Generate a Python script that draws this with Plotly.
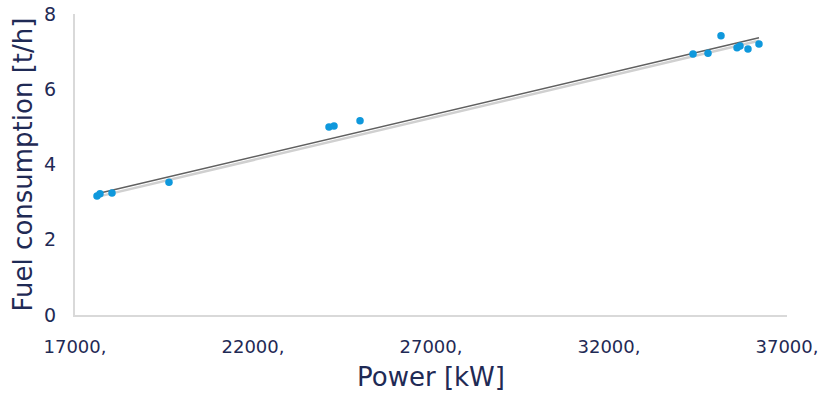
import plotly.graph_objects as go

# Data
power_kw = [17618, 17702, 18039, 19640, 24135, 24275, 25006,
            34360, 34781, 35146, 35596, 35680, 35904, 36213]
fuel_th = [3.16, 3.22, 3.24, 3.53, 5.00, 5.02, 5.16,
           6.94, 6.96, 7.42, 7.10, 7.15, 7.07, 7.20]
# Linear trendline end values
trend_x = [17618, 36213]
trend_y = [3.22, 7.37]
shadow_y = [3.14, 7.29]
x_tickvals = [17000, 22000, 27000, 32000, 37000]
x_ticktext = ["17000,", "22000,", "27000,", "32000,", "37000,"]
y_tickvals = [0, 2, 4, 6, 8]

NAVY = "#1f2a55"
FONT = "DejaVu Sans"

fig = go.Figure()
# trendline shadow
fig.add_trace(go.Scatter(x=trend_x, y=shadow_y, mode="lines",
                         line=dict(color="#d0d0d0", width=2.5),
                         hoverinfo="skip", showlegend=False))
fig.add_trace(go.Scatter(x=trend_x, y=trend_y, mode="lines",
                         line=dict(color="#606060", width=1.5),
                         hoverinfo="skip", showlegend=False))
fig.add_trace(go.Scatter(x=power_kw, y=fuel_th, mode="markers",
                         marker=dict(color="#0f98dc", size=7.5),
                         showlegend=False))

fig.update_layout(
    width=821, height=401,
    margin=dict(l=75, r=34, t=14, b=86),
    paper_bgcolor="white", plot_bgcolor="white",
    font=dict(family=FONT, color=NAVY),
)
fig.update_xaxes(
    range=[17000, 37000], tickvals=x_tickvals, ticktext=x_ticktext,
    automargin=False,
    showgrid=False, zeroline=False, showline=True, linecolor="#d9d9d9",
    linewidth=2, ticks="", tickfont=dict(size=18, color=NAVY),
    ticklabelstandoff=14,
    title=dict(text="Power [kW]", font=dict(size=26, color=NAVY), standoff=12),
)
fig.update_yaxes(
    range=[0, 8], tickvals=y_tickvals,
    automargin=False,
    showgrid=False, zeroline=False, showline=True, linecolor="#d9d9d9",
    linewidth=2, ticks="", tickfont=dict(size=19, color=NAVY),
    ticklabelstandoff=13,
    title=dict(text="Fuel consumption [t/h]", font=dict(size=26, color=NAVY), standoff=4),
)

fig.write_html("out.html",
               config={"displayModeBar": False},
               post_script="document.body.style.margin='0';document.body.style.overflow='hidden';")
